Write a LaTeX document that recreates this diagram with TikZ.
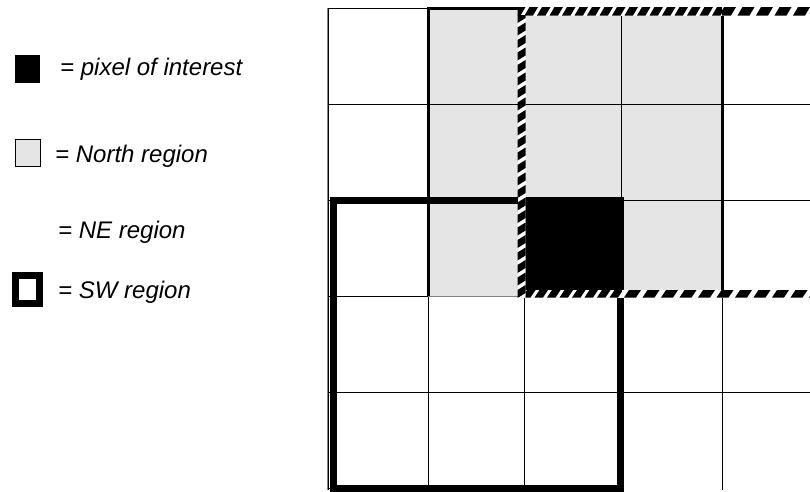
\documentclass[tikz,border=0pt]{standalone}
\usepackage{fontspec}
\setmainfont{Liberation Sans}
\definecolor{northgray}{HTML}{E5E5E5}
\tikzset{
  gridline/.style={draw=black, line width=1pt},
  northframe/.style={draw=black, line width=3pt},
  swframe/.style={draw=black, line width=7pt},
  legendtext/.style={anchor=base west, inner sep=0pt, font=\fontsize{24}{28}\selectfont\itshape},
  dashpiece/.style={fill=black},
}
\begin{document}
\begin{tikzpicture}[x=1pt, y=-1pt]
\useasboundingbox (0,0) rectangle (810,491);
\fill[white] (0,0) rectangle (810,491);

% ---- legend ----
\node[legendtext] (tpix) at (60,75) {= pixel of interest};
\node[legendtext] (tnorth) at (55,162.7) {= North region};
\node[legendtext] (tne) at (58,238) {= NE region};
\node[legendtext] (tsw) at (58,298) {= SW region};
\fill[black] (15,55) rectangle (40,83);
\filldraw[fill=northgray, draw=black, line width=1pt] (15,139) rectangle (40,166.5);
\draw[swframe] (15.5,275.5) rectangle (39.5,303);

% ---- north region fill ----
\fill[northgray] (428,8) rectangle (722,296);

% ---- grid ----
\foreach \yy in {104,200,296,392} { \draw[gridline] (328,\yy) -- (810,\yy); }
\draw[gridline] (328,8) -- (722,8);
\draw[gridline] (328,488) -- (622,488);
\draw[draw=gray, line width=1pt] (327,8) -- (327,490);
\foreach \xx in {328,428,524,621,722} { \draw[gridline] (\xx,8) -- (\xx,490); }

% ---- north region frame ----
\draw[northframe] (428,296) -- (428,8) -- (722,8) -- (722,296);
\draw[draw=gray, line width=1pt] (428,296) -- (520,296);

% ---- SW region ----
\draw[swframe] (333,200.5) rectangle (620,488);

% ---- pixel of interest ----
\fill[black] (525,197) rectangle (623,290);

% ---- NE region hatched border ----
% top band, fine part
\begin{scope}
  \clip (517.5,7) rectangle (722,15.5);
  \fill[white] (517.5,7) rectangle (722,15.5);
  \foreach \i in {0,...,17} {
    \pgfmathsetmacro{\b}{512+12.5*\i}
    \fill[dashpiece] (\b,15.5) -- (\b+8.5,15.5) -- (\b+13.5,7) -- (\b+5,7) -- cycle;
  }
\end{scope}
% top band, coarse part
\begin{scope}
  \clip (722,7) rectangle (815,15.5);
  \fill[white] (722,7) rectangle (815,15.5);
  \foreach \i in {0,...,5} {
    \pgfmathsetmacro{\b}{719+18.5*\i}
    \fill[dashpiece] (\b,15.5) -- (\b+12,15.5) -- (\b+17,7) -- (\b+5,7) -- cycle;
  }
\end{scope}
% left band
\begin{scope}
  \clip (517.5,15.5) rectangle (525.5,297.5);
  \fill[white] (517.5,15.5) rectangle (525.5,297.5);
  \foreach \j in {0,...,24} {
    \pgfmathsetmacro{\r}{10+12.5*\j}
    \fill[dashpiece] (525.5,\r) -- (525.5,\r+8) -- (517.5,\r+13) -- (517.5,\r+5) -- cycle;
  }
\end{scope}
% bottom band, fine part
\begin{scope}
  \clip (525.5,290) rectangle (622,297.5);
  \fill[white] (525.5,290) rectangle (622,297.5);
  \foreach \i in {0,...,8} {
    \pgfmathsetmacro{\b}{522+12.5*\i}
    \fill[dashpiece] (\b,297.5) -- (\b+8.5,297.5) -- (\b+13.5,290) -- (\b+5,290) -- cycle;
  }
\end{scope}
% bottom band, coarse part
\begin{scope}
  \clip (622,290) rectangle (815,297.5);
  \fill[white] (622,290) rectangle (815,297.5);
  \foreach \i in {0,...,11} {
    \pgfmathsetmacro{\b}{624+18.5*\i}
    \fill[dashpiece] (\b,297.5) -- (\b+12,297.5) -- (\b+17,290) -- (\b+5,290) -- cycle;
  }
\end{scope}
\end{tikzpicture}
\end{document}
